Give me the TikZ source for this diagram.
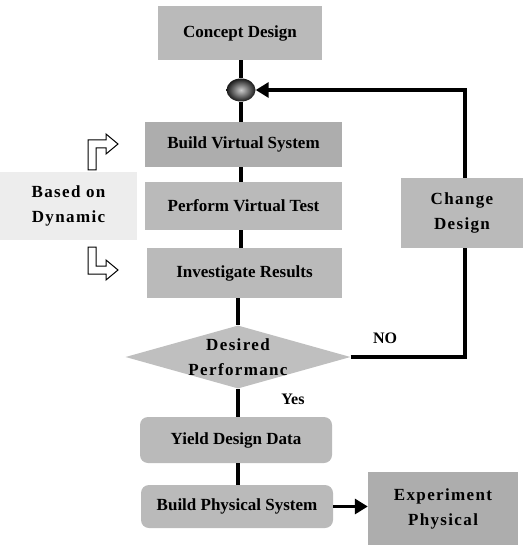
\documentclass[tikz,border=0pt]{standalone}
\usepackage{fontspec}
\setmainfont{Liberation Serif}
\newfontfamily\spacedfont[LetterSpace=8]{Liberation Serif}
\usetikzlibrary{shapes.geometric,arrows.meta}
\tikzset{
  box/.style={draw=none,fill=black!27,inner sep=0pt,font=\fontsize{17}{20}\selectfont\bfseries,align=center},
  rbox/.style={box,rounded corners=8pt},
  twoline/.style={font=\fontsize{17}{25}\selectfont\bfseries\spacedfont,align=center},
  conn/.style={line width=3.2pt,black},
  head/.style={-{Triangle[length=13pt,width=15pt]}},
  lbl/.style={font=\fontsize{16}{19}\selectfont\bfseries},
  bent/.style={draw=black,line width=1pt,fill=white,line join=miter}
}
\begin{document}
\begin{tikzpicture}[x=1pt,y=-1pt]
\useasboundingbox (0,0) rectangle (531,545);
% nodes
\node[box,minimum width=164pt,minimum height=54pt] (concept) at (240,33) {Concept Design};
\node[ellipse,minimum width=29pt,minimum height=23pt,inner sep=0pt,shading=radial,inner color=gray!40,outer color=black!90] (dot) at (241,90) {};
\node[box,fill=black!32,minimum width=197pt,minimum height=45pt] (bvs) at (243.5,144.5) {Build Virtual System};
\node[box,minimum width=197pt,minimum height=48pt] (pvt) at (243.5,206) {Perform Virtual Test};
\node[box,minimum width=195pt,minimum height=50pt] (inv) at (244.5,273) {Investigate Results};
\node[diamond,fill=black!25,inner sep=0pt,aspect=3.57,minimum width=225pt,minimum height=63pt] (dia) at (238,357) {};
\node[twoline,inner sep=0pt] (diatext) at (dia.center) {Desired\\Performanc};
\node[rbox,minimum width=192pt,minimum height=46pt] (ydd) at (236,440) {Yield Design Data};
\node[rbox,minimum width=192pt,minimum height=43pt] (bps) at (237,506.5) {Build Physical System};
\node[box,twoline,fill=black!32,minimum width=150pt,minimum height=73pt] (exp) at (443,508.5) {Experiment\\Physical};
\node[box,twoline,minimum width=122pt,minimum height=70pt] (chg) at (462,213) {Change\\Design};
\node[box,twoline,fill=black!7,minimum width=137pt,minimum height=68pt] (bod) at (68.5,206) {Based on\\Dynamic};
% labels
\node[lbl] (no) at (385,338) {NO};
\node[lbl] (yes) at (293,399) {Yes};
% connectors
\draw[conn] (concept.south -| dot) -- (dot.north);
\draw[conn] (dot.south) -- (dot.south |- bvs.north);
\draw[conn] (bvs.south -| dot) -- (dot |- pvt.north);
\draw[conn] (pvt.south -| dot) -- (dot |- inv.north);
\draw[conn] (inv.south -| dia) -- (dia.north);
\draw[conn] (dia.south) -- (dia.south |- ydd.north);
\draw[conn] (ydd.south -| dia) -- (dia |- bps.north);
\draw[conn,head] (bps.east) -- (bps.east -| exp.west);
\draw[conn] (dia.east) -| ([xshift=3pt]chg.south);
\draw[conn,head] ([xshift=3pt]chg.north) |- (dot.east);
% bent outline arrows
\draw[bent] (88,170) -- (88,140) -- (106,140) -- (106,134) -- (118,144) -- (106,154) -- (106,148) -- (96,148) -- (96,170) -- cycle;
\draw[bent] (88,247) -- (88,274) -- (106,274) -- (106,280) -- (118,270) -- (106,260) -- (106,266) -- (96,266) -- (96,247) -- cycle;
\end{tikzpicture}
\end{document}
